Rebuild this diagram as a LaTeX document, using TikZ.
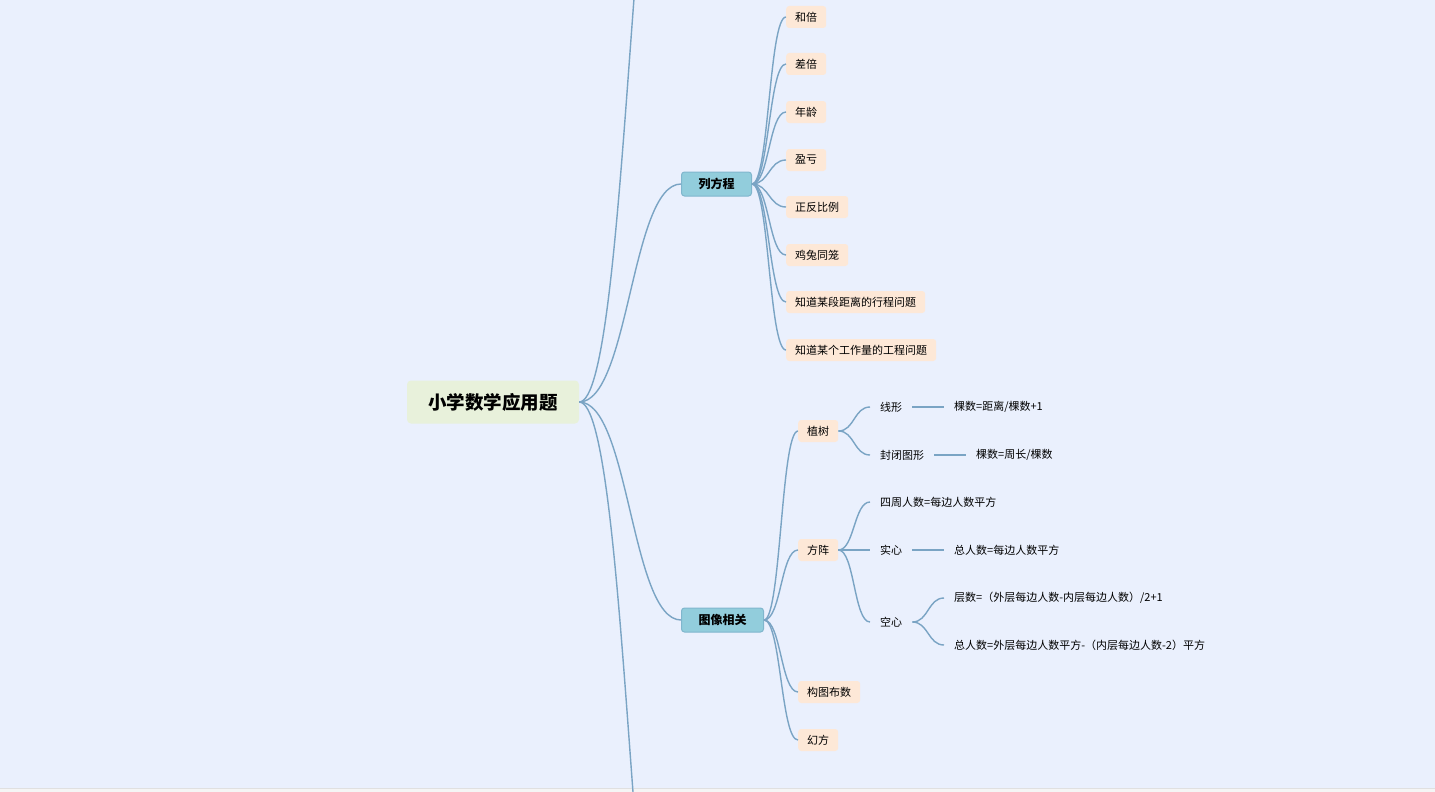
\documentclass[tikz,border=0pt]{standalone}
\usepackage{fontspec}
\setmainfont{Noto Sans CJK SC}
\usepackage{xcolor}
\usepackage{tikz}
\usetikzlibrary{calc}
\definecolor{canvas}{RGB}{234,240,253}
\definecolor{wire}{RGB}{122,164,196}
\definecolor{rootfill}{RGB}{232,241,219}
\definecolor{topicfill}{RGB}{146,205,220}
\definecolor{topicedge}{RGB}{128,182,205}
\definecolor{leaffill}{RGB}{253,232,215}

\begin{document}
\begin{tikzpicture}[x=1pt,y=-1pt]
  \tikzstyle{root}=[fill=rootfill,rounded corners=4pt,minimum width=172pt,minimum height=43pt,font=\bfseries\fontsize{18.5}{22}\selectfont]
  \tikzstyle{topic}=[draw=topicedge,fill=topicfill,line width=1pt,rounded corners=3pt,minimum height=24pt,inner xsep=17pt,anchor=west,font=\bfseries\fontsize{12}{14}\selectfont]
  \tikzstyle{leaf}=[fill=leaffill,rounded corners=3pt,minimum height=22pt,inner xsep=9pt,anchor=west,font=\fontsize{11}{13}\selectfont]
  \tikzstyle{note}=[inner xsep=10pt,minimum height=20pt,anchor=west,font=\fontsize{11}{13}\selectfont]
  \tikzstyle{wire}=[draw=wire,line width=1.4pt]
  \tikzset{link/.style={wire,to path={.. controls ($(\tikztostart)+(#1,0)$) and ($(\tikztotarget)-(#1,0)$) .. (\tikztotarget)}},link/.default=17}
  % canvas
  \fill[canvas] (0,0) rectangle (1435,792);
  \useasboundingbox (0,0) rectangle (1435,792);
  \fill[black!4] (0,788) rectangle (1435,792);
  \draw[black!12,line width=0.8pt] (0,788) -- (1435,788);
  % centre
  \node[root] (root) at (493,402) {小学数学应用题};
  \coordinate (upper) at (681,-300);
  \coordinate (lower) at (681,1104);
  \node[topic] (equation) at (681,184) {列方程};
  \node[topic] (graph) at (681,620) {图像相关};
  % 列方程
  \node[leaf] (hebei) at (786,17) {和倍};
  \node[leaf] (chabei) at (786,64) {差倍};
  \node[leaf] (nianling) at (786,112) {年龄};
  \node[leaf] (yingkui) at (786,160) {盈亏};
  \node[leaf] (bili) at (786,207) {正反比例};
  \node[leaf] (jitu) at (786,255) {鸡兔同笼};
  \node[leaf] (xingcheng) at (786,302) {知道某段距离的行程问题};
  \node[leaf] (gongcheng) at (786,350) {知道某个工作量的工程问题};
  % 图像相关
  \node[leaf] (zhishu) at (798,431) {植树};
  \node[leaf] (fangzhen) at (798,550) {方阵};
  \node[leaf] (goutu) at (798,692) {构图布数};
  \node[leaf] (huanfang) at (798,740) {幻方};
  \node[note] (xianxing) at (870,407) {线形};
  \node[note] (fengbi) at (870,455) {封闭图形};
  \node[note] (ksA) at (944,407) {棵数=距离/棵数+1};
  \node[note] (ksB) at (966,455) {棵数=周长/棵数};
  \node[note] (sizhou) at (870,502) {四周人数=每边人数平方};
  \node[note] (shixin) at (870,550) {实心};
  \node[note] (shixinF) at (944,550) {总人数=每边人数平方};
  \node[note] (kongxin) at (870,622) {空心};
  \node[note] (cengshu) at (944,598) {层数=（外层每边人数-内层每边人数）/2+1};
  \node[note] (zongshu) at (944,645) {总人数=外层每边人数平方-（内层每边人数-2）平方};
  % connectors
  \draw[link=50] (root.east) to (upper);
  \draw[link=50] (root.east) to (equation.west);
  \draw[link=50] (root.east) to (graph.west);
  \draw[link=50] (root.east) to (lower);
  \foreach \leaf in {hebei,chabei,nianling,yingkui,bili,jitu,xingcheng,gongcheng}
    \draw[link] (equation.east) to (\leaf.west);
  \foreach \leaf in {zhishu,fangzhen,goutu,huanfang}
    \draw[link] (graph.east) to (\leaf.west);
  \draw[link=16] (zhishu.east) to (xianxing.west);
  \draw[link=16] (zhishu.east) to (fengbi.west);
  \draw[link=16] (fangzhen.east) to (sizhou.west);
  \draw[link=16] (fangzhen.east) to (shixin.west);
  \draw[link=16] (fangzhen.east) to (kongxin.west);
  \draw[link=16] (kongxin.east) to (cengshu.west);
  \draw[link=16] (kongxin.east) to (zongshu.west);
  \draw[wire] (xianxing) -- (ksA);
  \draw[wire] (fengbi) -- (ksB);
  \draw[wire] (shixin) -- (shixinF);
\end{tikzpicture}
\end{document}
